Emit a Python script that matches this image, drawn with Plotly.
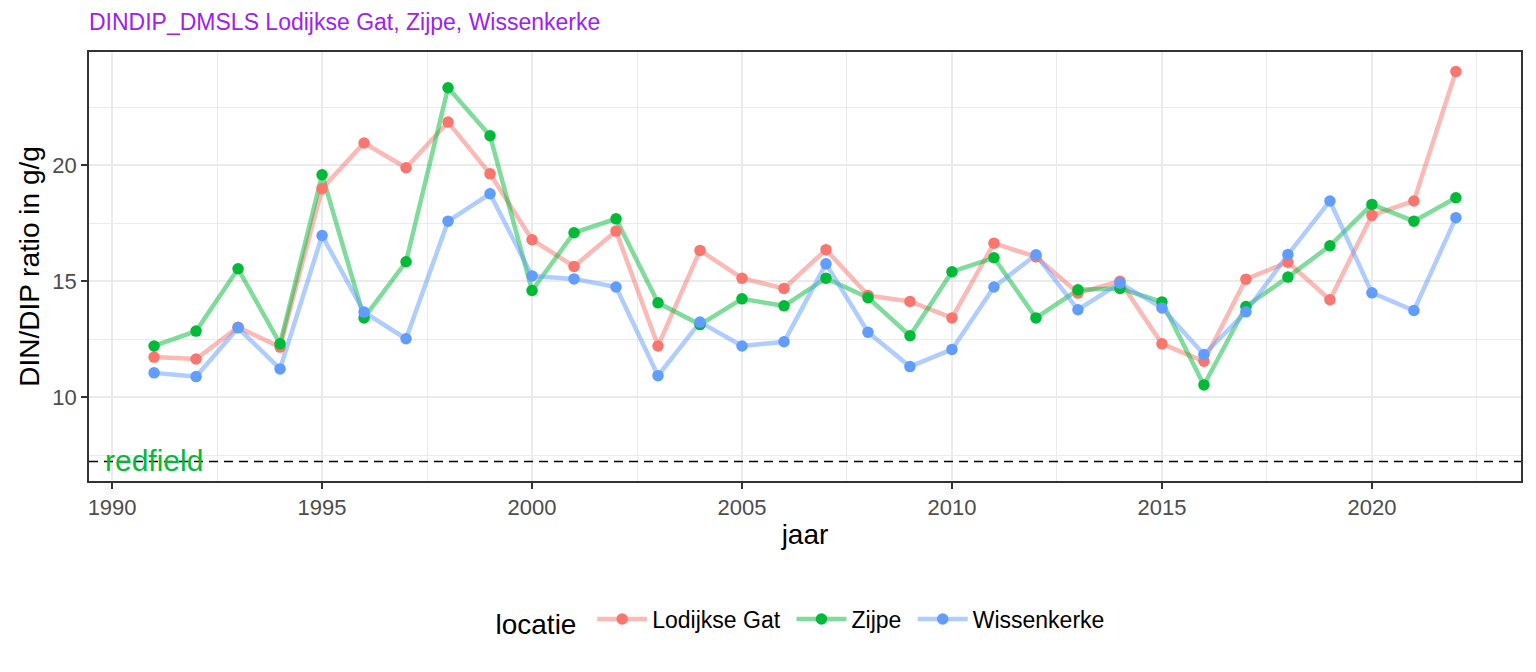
import plotly.graph_objs as go

# DIN/DIP ratio per year and location
jaar = list(range(1991, 2023))
lodijkse_gat = [11.73, 11.65, 13.02, 12.16, 18.99, 20.96, 19.89, 21.86, 19.63, 16.79,
                15.64, 17.16, 12.21, 16.33, 15.13, 14.69, 16.36, 14.39, 14.13, 13.42,
                16.64, 16.05, 14.49, 15.00, 12.30, 11.55, 15.09, 15.82, 14.20, 17.84,
                18.46, 24.04]
zijpe = [12.21, 12.85, 15.54, 12.30, 19.59, 13.42, 15.84, 23.34, 21.27, 14.60,
         17.09, 17.69, 14.07, 13.13, 14.24, 13.94, 15.13, 14.29, 12.65, 15.41,
         16.01, 13.42, 14.63, 14.69, 14.11, 10.53, 13.91, 15.18, 16.53, 18.31,
         17.59, 18.60]
wissenkerke = [11.05, 10.89, 12.99, 11.22, 16.97, 13.67, 12.52, 17.59, 18.77, 15.23,
               15.10, 14.75, 10.93, 13.24, 12.21, 12.39, 15.75, 12.80, 11.32, 12.06,
               14.75, 16.14, 13.77, 14.92, 13.85, 11.84, 13.68, 16.15, 18.46, 14.50,
               13.74, 17.74]
locaties = ["Lodijkse Gat", "Zijpe", "Wissenkerke"]
redfield = 7.23

kleuren = ["#F8766D", "#00BA38", "#619CFF"]
lijn_kleuren = ["rgba(248,118,109,0.5)", "rgba(0,186,56,0.5)", "rgba(97,156,255,0.5)"]
series = [lodijkse_gat, zijpe, wissenkerke]

font = "Liberation Sans, Arial, sans-serif"

data = []
# lines first, points on top (like ggplot layers)
for i in range(3):
    data.append(go.Scatter(x=jaar, y=series[i], mode="lines",
                           line=dict(color=lijn_kleuren[i], width=4.5),
                           showlegend=False, hoverinfo="skip"))
for i in range(3):
    data.append(go.Scatter(x=jaar, y=series[i], mode="markers", name=locaties[i],
                           marker=dict(color=kleuren[i], size=11.5),
                           showlegend=False))
# legend keys
for i in range(3):
    data.append(go.Scatter(x=[None], y=[None], mode="lines+markers", name=locaties[i] + " ",
                           line=dict(color=lijn_kleuren[i], width=4.5),
                           marker=dict(color=kleuren[i], size=11.5)))

alle = lodijkse_gat + zijpe + wissenkerke + [redfield]
ylo, yhi = min(alle), max(alle)
ypad = (yhi - ylo) * 0.05
xpad = (jaar[-1] - jaar[0]) * 0.05

axis = dict(
    showgrid=True,
    gridcolor="#EBEBEB",
    gridwidth=1.5,
    zeroline=False,
    showline=True,
    mirror=True,
    linecolor="#333333",
    linewidth=1.8,
    ticks="outside",
    ticklen=6,
    tickwidth=1.5,
    tickcolor="#333333",
    automargin=False,
    tickfont=dict(family=font, size=22, color="#4D4D4D"),
)

layout = go.Layout(
    width=1536,
    height=672,
    autosize=False,
    paper_bgcolor="white",
    plot_bgcolor="white",
    margin=dict(l=89, r=15, t=52, b=191),
    font=dict(family=font),
    title=dict(text="DINDIP_DMSLS Lodijkse Gat, Zijpe, Wissenkerke",
               font=dict(family=font, size=23, color="#A020F0"),
               x=0, xref="paper", xanchor="left",
               y=1 - 22 / 672, yref="container", yanchor="middle"),
    xaxis=dict(axis, range=[jaar[0] - xpad, jaar[-1] + xpad], tick0=1990, dtick=5,
               minor=dict(dtick=2.5, tick0=1990, showgrid=True, gridcolor="#EBEBEB",
                          gridwidth=0.8, ticks=""),
               title=dict(text="jaar", font=dict(family=font, size=28, color="black"),
                          standoff=5)),
    yaxis=dict(axis, range=[ylo - ypad, yhi + ypad], tick0=0, dtick=5,
               minor=dict(dtick=2.5, tick0=0, showgrid=True, gridcolor="#EBEBEB",
                          gridwidth=0.8, ticks=""),
               title=dict(text="DIN/DIP ratio in g/g",
                          font=dict(family=font, size=28, color="black"),
                          standoff=4)),
    legend=dict(orientation="h", x=0.5, xanchor="center",
                y=1 - 621 / 672, yref="container", yanchor="middle",
                title=dict(text="locatie ", side="left",
                           font=dict(family=font, size=28, color="black")),
                font=dict(family=font, size=23, color="black"),
                itemwidth=50, bgcolor="rgba(0,0,0,0)"),
)

fig = go.Figure(data=data, layout=layout)
fig.add_hline(y=redfield, line=dict(color="black", width=1.5, dash="9px,6px"))
fig.add_annotation(x=jaar[0], y=redfield, text="redfield", showarrow=False,
                   xanchor="center", yanchor="middle", yshift=1,
                   font=dict(family=font, size=30, color="#00BA38"))

fig.write_html("out.html", config={"displayModeBar": False},
               post_script="document.body.style.margin='0';")
